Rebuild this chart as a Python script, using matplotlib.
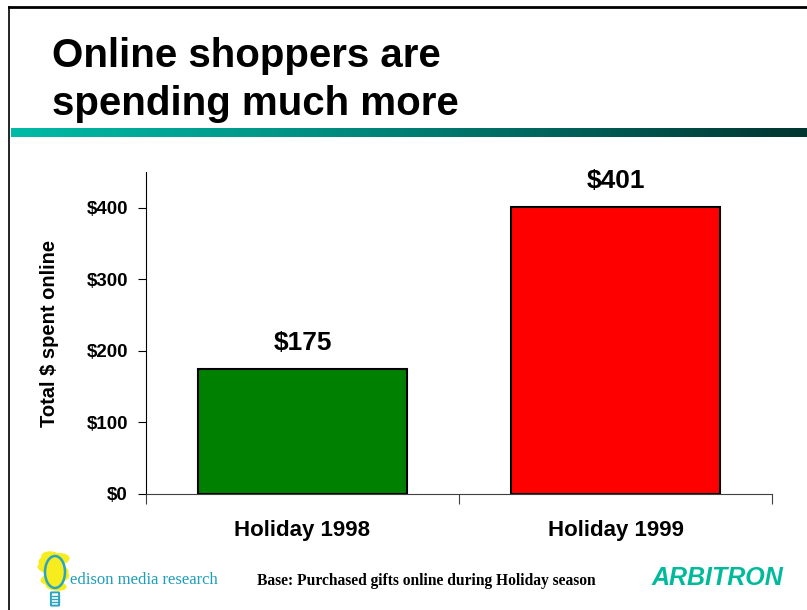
import matplotlib
matplotlib.use("Agg")
import matplotlib.pyplot as plt
import numpy as np
from matplotlib.colors import LinearSegmentedColormap
from matplotlib.patches import Ellipse, FancyBboxPatch
from matplotlib.lines import Line2D

plt.rcParams["font.family"] = ["Liberation Sans", "DejaVu Sans"]

# data
categories = ["Holiday 1998", "Holiday 1999"]
spend = [175, 401]
spend_labels = ["$175", "$401"]
bar_colors = ["#008000", "#FF0000"]
yticks = [0, 100, 200, 300, 400]
ytick_labels = ["$0", "$100", "$200", "$300", "$400"]

W, H = 807, 610
fig = plt.figure(figsize=(W / 100, H / 100), dpi=100)


def fx(px):
    return px / W


def fy(py):
    return 1 - py / H


# slide frame (left + top rules)
fig.add_artist(Line2D([fx(9), fx(9)], [fy(7), 0], color="black", lw=1.2))
fig.add_artist(Line2D([fx(9), 1], [fy(7), fy(7)], color="black", lw=2.0))

# title
fig.text(fx(52), fy(80), "Online shoppers are\nspending much more",
         fontsize=29, fontweight="bold", va="center", ha="left", linespacing=1.32)

# teal gradient rule under the title
gax = fig.add_axes([fx(11), fy(137), 1 - fx(11), (137 - 128) / H])
cmap = LinearSegmentedColormap.from_list("rule", ["#00BBA6", "#009688", "#00665E", "#003530"])
gax.imshow(np.linspace(0, 1, 256)[None, :], aspect="auto", cmap=cmap)
gax.axis("off")

# main chart
ax = fig.add_axes([fx(146), fy(494), fx(772) - fx(146), (494 - 172) / H])
x = np.arange(len(categories))
bars = ax.bar(x, spend, width=0.67, color=bar_colors, edgecolor="black", linewidth=1.5)
for b, lab in zip(bars, spend_labels):
    ax.annotate(lab, (b.get_x() + b.get_width() / 2, b.get_height()),
                xytext=(0, 10), textcoords="offset points",
                ha="center", va="bottom", fontsize=19, fontweight="bold")

ax.set_xlim(-0.5, 1.5)
ax.set_ylim(0, 450)
ax.set_yticks(yticks)
ax.set_yticklabels(ytick_labels, fontsize=13.5, fontweight="bold")
ax.set_xticks([-0.5, 0.5, 1.5])
ax.set_xticklabels([])
ax.set_xticks(x, minor=True)
ax.set_xticklabels(categories, minor=True, fontsize=16, fontweight="bold")
ax.tick_params(axis="x", which="minor", length=0, pad=19)
ax.tick_params(axis="x", which="major", direction="out", length=7, color="#404040")
ax.tick_params(axis="y", direction="out", length=6, pad=7)
ax.spines["top"].set_visible(False)
ax.spines["right"].set_visible(False)
ax.spines["bottom"].set_color("#404040")
ax.set_ylabel("Total $ spent online", fontsize=14.5, fontweight="bold", labelpad=20)

# footer: edison logo (rough), base note, arbitron
lax = fig.add_axes([fx(36), fy(610), fx(38), 60 / H])
lax.set_xlim(0, 38)
lax.set_ylim(0, 60)
lax.axis("off")
for cx, cy, w, h, a in [(18, 50, 30, 12, 8), (17, 41, 30, 11, -10), (19, 32, 28, 11, 12),
                        (14, 54, 16, 8, 0), (20, 24, 20, 8, -6)]:
    lax.add_patch(Ellipse((cx, cy), w, h, angle=a, color="#F6EC1E"))
lax.add_patch(Ellipse((19, 38), 20, 32, fill=False, ec="#2AA5C0", lw=1.8))
lax.add_patch(FancyBboxPatch((15.5, 5), 7, 12, boxstyle="round,pad=0.6", fill=False, ec="#2AA5C0", lw=1.4))
for yy in (8, 11, 14):
    lax.plot([15.5, 22.5], [yy, yy], color="#2AA5C0", lw=1.0)

fig.text(fx(70), fy(580), "edison media research", fontsize=12, color="#1E9DBB",
         family=["Liberation Serif", "DejaVu Serif"], va="center", ha="left")
fig.text(fx(257), fy(581), "Base: Purchased gifts online during Holiday season",
         fontsize=11.2, fontweight="bold", family=["Liberation Serif", "DejaVu Serif"],
         va="center", ha="left")
fig.text(fx(717), fy(578), "ARBITRON", fontsize=18, fontweight="heavy", style="italic",
         color="#00BA9B", va="center", ha="center")

fig.savefig("out.png", dpi=100)
